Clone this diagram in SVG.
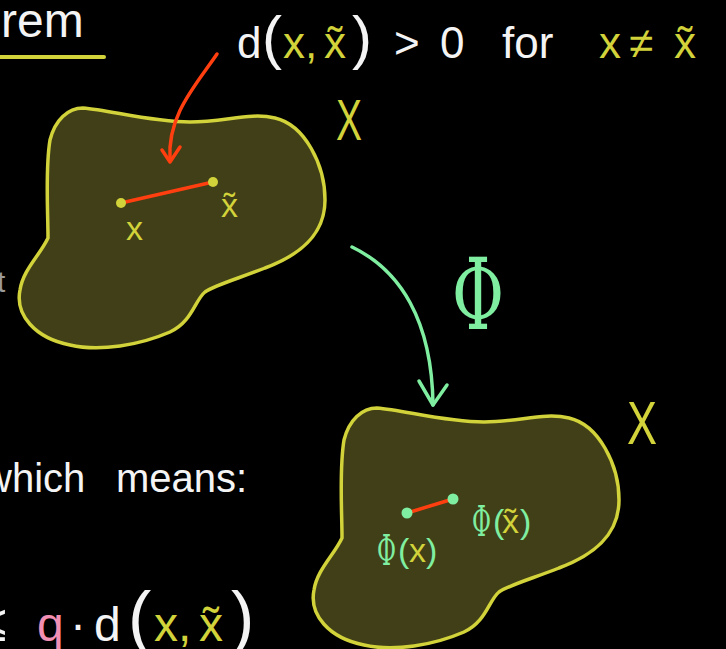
<svg xmlns="http://www.w3.org/2000/svg" width="726" height="649" viewBox="0 0 726 649">
<style>
.w{fill:#f4f4f4;font-family:"Liberation Sans",Arial,sans-serif}
.y{fill:#d2d23a;font-family:"Liberation Sans",Arial,sans-serif}
.g{fill:#80eea0;font-family:"Liberation Sans",Arial,sans-serif}
.phi{fill:#80eea0;font-family:"DejaVu Serif","Liberation Serif",serif}
.blob{fill:#403f17;stroke:#d2d23a;stroke-width:3.5;stroke-linejoin:round}
.red{fill:none;stroke:#ff3f0f;stroke-width:3.5;stroke-linecap:round;stroke-linejoin:round}
.grn{fill:none;stroke:#80eea0;stroke-width:3.5;stroke-linecap:round;stroke-linejoin:round}
</style>
<defs>
<path id="blobShape" d="M83,108 C110,110 150,122 190,122 C225,122 250,112 275,118 C305,125 325,165 325,200 C325,235 300,255 265,268 C240,278 215,285 205,292 C195,300 192,322 170,332 C140,345 100,352 70,345 C35,338 15,315 20,290 C23,270 40,255 48,238 C48,210 45,170 50,140 C55,120 68,108 83,108 Z"/>
</defs>
<rect width="726" height="649" fill="#000"/>

<g id="title">
<text class="w" x="1" y="37" font-size="48">rem</text>
<line x1="0" y1="57" x2="104" y2="57" stroke="#d2d23a" stroke-width="4" stroke-linecap="round"/>
</g>

<g id="formula-top">
<text class="w" y="58" font-size="44"><tspan x="237">d</tspan><tspan x="262" font-size="60">(</tspan><tspan class="y" x="283">x,</tspan><tspan class="y" x="324">x̃</tspan><tspan x="352" font-size="60">)</tspan><tspan x="394">&gt;</tspan><tspan x="440">0</tspan><tspan x="502">for</tspan><tspan class="y" x="599">x</tspan><tspan class="y" x="629">≠</tspan><tspan class="y" x="674">x̃</tspan></text>
</g>

<g id="space-X">
<use href="#blobShape" class="blob"/>
<text class="y" x="336" y="140" font-size="58" textLength="26" lengthAdjust="spacingAndGlyphs">X</text>
<line class="red" x1="121" y1="203" x2="213" y2="182"/>
<circle cx="121" cy="203" r="5" fill="#d2d23a"/>
<circle cx="213" cy="182" r="5" fill="#d2d23a"/>
<text class="y" x="126" y="240" font-size="34">x</text>
<text class="y" x="221" y="217" font-size="34">x̃</text>
</g>

<g id="space-X-image">
<use href="#blobShape" class="blob" transform="translate(294,300)"/>
<text class="y" x="627" y="444" font-size="62" textLength="30" lengthAdjust="spacingAndGlyphs">X</text>
<line class="red" x1="407" y1="513" x2="453" y2="499"/>
<circle cx="407" cy="513" r="5.5" fill="#80eea0"/>
<circle cx="453" cy="499" r="5.5" fill="#80eea0"/>
<text class="g" y="562" font-size="34"><tspan class="phi" x="377" y="565" font-size="42" textLength="19" lengthAdjust="spacingAndGlyphs">Φ</tspan><tspan x="398" y="562">(</tspan><tspan class="y" x="409">x</tspan><tspan x="426">)</tspan></text>
<text class="g" y="533" font-size="34"><tspan class="phi" x="472" y="536" font-size="42" textLength="19" lengthAdjust="spacingAndGlyphs">Φ</tspan><tspan x="493" y="533">(</tspan><tspan class="y" x="502">x̃</tspan><tspan x="520">)</tspan></text>
</g>

<g id="connectors">
<path class="red" d="M217,54 C196,85 167,115 170,160"/>
<path class="red" d="M162,150 L170,162 L180,147"/>
<path class="grn" d="M352,247 C400,270 432,320 433,405"/>
<path class="grn" d="M419,381 L433,405 L447,385"/>
<text class="phi" x="452" y="329" font-size="100" textLength="52" lengthAdjust="spacingAndGlyphs">Φ</text>
</g>

<g id="left-text">
<text x="-3" y="292" font-size="30" fill="#9a9a9a" font-family="Liberation Sans, sans-serif">t</text>
<text class="w" y="492" font-size="40"><tspan x="-17">which</tspan><tspan x="116">means:</tspan></text>
</g>

<g id="formula-bottom">
<text class="w" y="641" font-size="48"><tspan x="-22" font-size="52">≤</tspan><tspan x="37" fill="#f48fb4">q</tspan><tspan x="70">·</tspan><tspan x="94">d</tspan><tspan x="128" font-size="70">(</tspan><tspan class="y" x="154">x,</tspan><tspan class="y" x="199">x̃</tspan><tspan x="231" font-size="70">)</tspan></text>
</g>
</svg>
